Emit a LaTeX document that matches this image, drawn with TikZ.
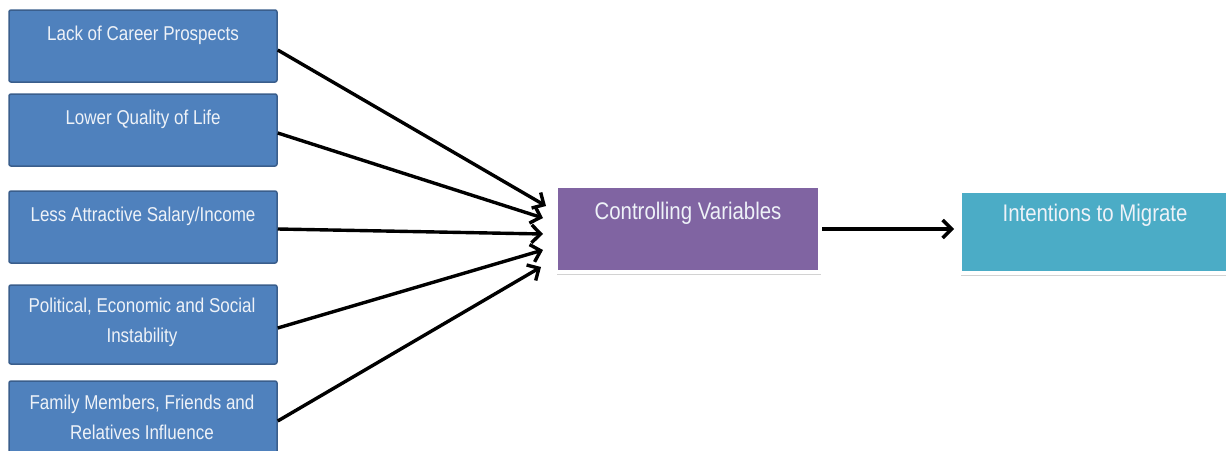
\documentclass[tikz,border=0pt]{standalone}
\usepackage{fontspec}
\setmainfont{Liberation Sans}[FakeStretch=0.85]
\usetikzlibrary{arrows.meta,shadows}
\definecolor{boxblue}{HTML}{4F81BD}
\definecolor{boxedge}{HTML}{3A5E8C}
\definecolor{cvpurple}{HTML}{8064A2}
\definecolor{itteal}{HTML}{4BACC6}
\definecolor{txtwhite}{HTML}{EEF2F8}
\tikzset{
  factor/.style={draw=boxedge, fill=boxblue, line width=1.5pt, rounded corners=2pt, inner sep=0pt},
  ftext/.style={text=txtwhite, font=\fontsize{20}{30}\selectfont, align=center, anchor=north, inner sep=0pt},
  mainbox/.style={draw=white, line width=4pt, inner sep=0pt,
    drop shadow={shadow xshift=1pt, shadow yshift=-2.5pt, opacity=0.25, fill=black!70}},
  mtext/.style={text=txtwhite, font=\fontsize{24}{28}\selectfont, anchor=center, inner sep=0pt},
  arr/.style={line width=3.4pt, -{Straight Barb[length=9pt,width=18pt,line width=3.4pt]}}
}
\begin{document}
\begin{tikzpicture}[x=1pt,y=-1pt]
\useasboundingbox (0,0) rectangle (1226,450);
\clip (0,0) rectangle (1226,450);
\fill[white] (0,0) rectangle (1226,450);
% left factor boxes
\node[factor, minimum width=268pt, minimum height=72pt] (b1) at (143,46) {};
\node[factor, minimum width=268pt, minimum height=72pt] (b2) at (143,130) {};
\node[factor, minimum width=268pt, minimum height=72pt] (b3) at (143,227) {};
\node[factor, minimum width=268pt, minimum height=79pt] (b4) at (143,324.5) {};
\node[factor, minimum width=268pt, minimum height=80pt] (b5) at (143,421) {};
\node[ftext] (l1) at (143,26) {Lack of Career Prospects};
\node[ftext] (l2) at (143,110) {Lower Quality of Life};
\node[ftext] (l3) at (143,207) {Less Attractive Salary/Income};
\node[ftext] (l4) at (142,298) {Political, Economic and Social\\Instability};
\node[ftext] (l5) at (142,395) {Family Members, Friends and\\Relatives Influence};
% main boxes
\node[mainbox, fill=cvpurple, minimum width=264pt, minimum height=86pt] (cv) at (688,229) {};
\node[mtext] (cvt) at (688,213) {Controlling Variables};
\node[mainbox, fill=itteal, minimum width=270pt, minimum height=82pt] (im) at (1095,232) {};
\node[mtext] (imt) at (1095,215) {Intentions to Migrate};
% arrow ends
\coordinate (t1) at (546,206);
\coordinate (t2) at (543,218);
\coordinate (t3) at (543,234);
\coordinate (t4) at (543,250);
\coordinate (t5) at (541,267);
\draw[arr] ([yshift=-4pt]b1.east) -- (t1);
\draw[arr] ([yshift=-3pt]b2.east) -- (t2);
\draw[arr] ([yshift=-2pt]b3.east) -- (t3);
\draw[arr] ([yshift=-3.5pt]b4.east) -- (t4);
\draw[arr] (b5.east) -- (t5);
\draw[arr] (cv.east) -- ([xshift=-4pt]im.west |- cv.east);
\end{tikzpicture}
\end{document}
